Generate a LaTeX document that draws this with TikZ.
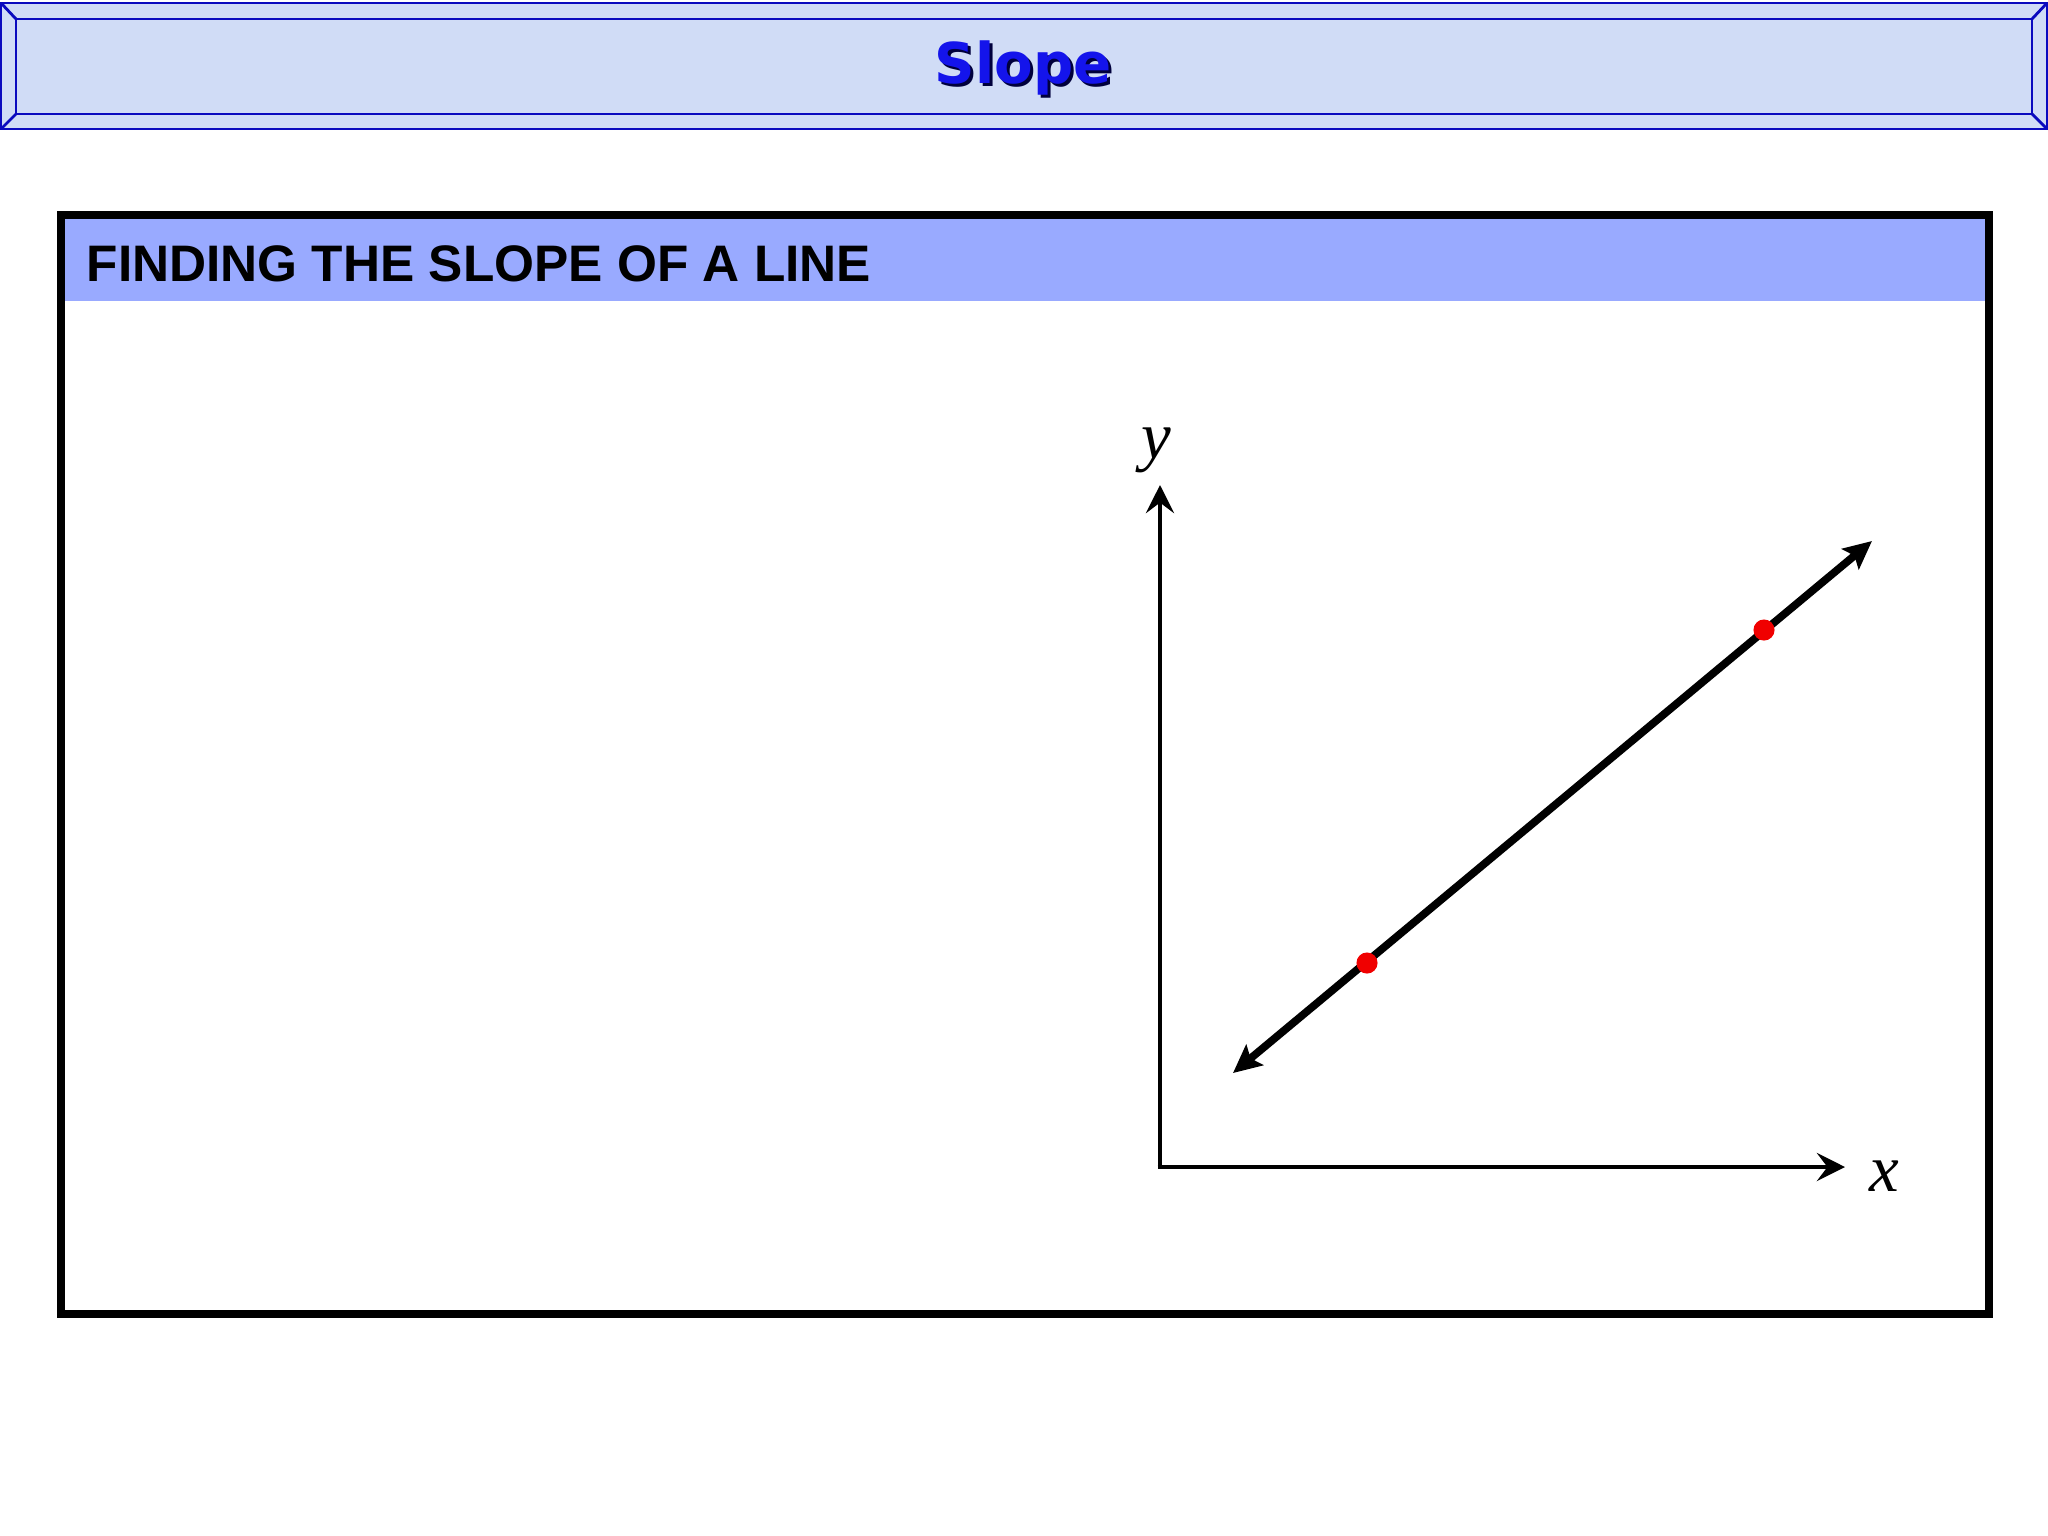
\documentclass[tikz,border=0pt]{standalone}
\usepackage{fontspec}
\setmainfont{Liberation Serif}
\setsansfont{Liberation Sans}
\newfontfamily\bannerfont{DejaVu Sans}
\usetikzlibrary{arrows.meta}

\definecolor{bannerfill}{RGB}{208,220,246}
\definecolor{bannerline}{RGB}{10,10,190}
\definecolor{headerblue}{RGB}{153,170,255}
\definecolor{slopeblue}{RGB}{20,20,235}
\definecolor{slopeshadow}{RGB}{0,0,60}
\definecolor{dotred}{RGB}{240,0,0}

\tikzset{
    axis/.style={line width=1.3pt,-{Stealth[length=8pt,width=8pt,inset=3pt]}},
    slopeline/.style={line width=2.2pt,{Stealth[length=8pt,width=7.5pt,inset=1.5pt]}-{Stealth[length=8pt,width=7.5pt,inset=1.5pt]}},
    point/.style={circle,fill=dotred,inner sep=0pt,minimum size=6pt}
}

\begin{document}
\begin{tikzpicture}[x=0.01cm,y=-0.01cm]
        \useasboundingbox[fill=white] (0,0) rectangle (2048,1536);

        % title banner
        \fill[bannerfill] (1,3) rectangle (2047,129);
        \draw[bannerline,line width=0.8pt] (1,3) rectangle (2047,129);
        \draw[bannerline,line width=0.8pt] (16,19) rectangle (2032,114);
        \draw[bannerline,line width=0.8pt] (1,3) -- (16,19) (2047,3) -- (2032,19)
            (1,129) -- (16,114) (2047,129) -- (2032,114);
        \node[anchor=base,inner sep=0pt,text=slopeshadow,font=\bannerfont\bfseries\fontsize{16}{19}\selectfont] (title_shadow) at (1026,86) {Slope};
        \node[anchor=base,inner sep=0pt,text=slopeblue,font=\bannerfont\bfseries\fontsize{16}{19}\selectfont] (title) at (1023,83) {Slope};

        % frame with header
        \fill[headerblue] (65,219) rectangle (1985,301);
        \draw[line width=2.3pt] (61,215) rectangle (1989,1314);
        \node[anchor=base west,inner sep=0pt,font=\sffamily\bfseries\fontsize{14.6}{17}\selectfont] (header) at (86,281) {FINDING THE SLOPE OF A LINE};

        % axes
        \coordinate (origin) at (1160,1167);
        \coordinate (y_end) at (1160,485);
        \coordinate (x_end) at (1845,1167);
        \node[font=\itshape\fontsize{19}{22}\selectfont,inner sep=0pt] (y) at (1156,450) {y};
        \node[font=\itshape\fontsize{19}{22}\selectfont,inner sep=0pt] (x) at (1884,1176) {x};
        \draw[axis] (origin) -- (y_end);
        \draw[axis] ([xshift=-0.65pt]origin) -- (x_end);

        % line through two points
        \coordinate (low) at (1233,1073);
        \coordinate (high) at (1872,541);
        \draw[slopeline] (low) -- (high);
        \node[point] (p1) at (1367,963) {};
        \node[point] (p2) at (1764,630) {};

    \end{tikzpicture}
\end{document}
